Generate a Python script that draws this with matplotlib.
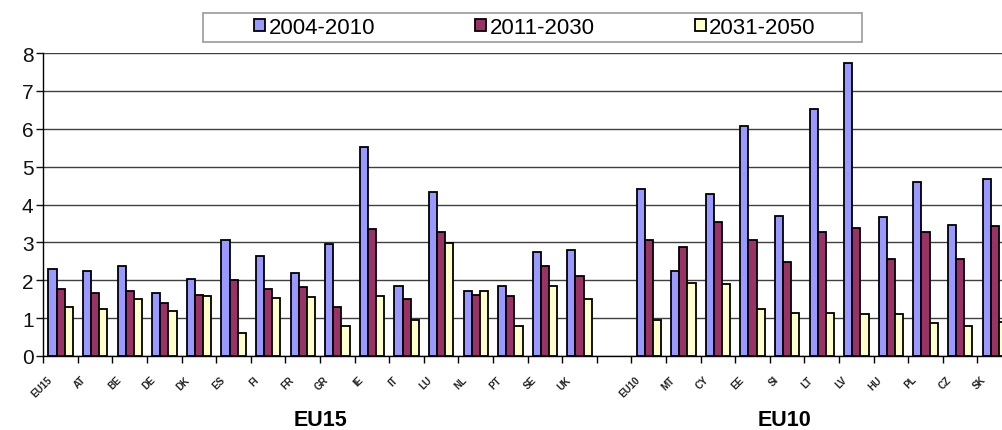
import numpy as np
import matplotlib
matplotlib.use("Agg")
import matplotlib.pyplot as plt
import matplotlib.transforms as mtrans
from matplotlib.patches import Rectangle

plt.rcParams['font.family'] = ['Liberation Sans', 'DejaVu Sans']

# categories (an empty slot separates the two groups)
countries = ["EU15", "AT", "BE", "DE", "DK", "ES", "FI", "FR", "GR", "IE", "IT", "LU", "NL", "PT", "SE", "UK",
             "",
             "EU10", "MT", "CY", "EE", "SI", "LT", "LV", "HU", "PL", "CZ", "SK"]
periods = ["2004-2010", "2011-2030", "2031-2050"]

p2004_2010 = [2.29, 2.25, 2.38, 1.66, 2.04, 3.06, 2.65, 2.19, 2.96, 5.52, 1.86, 4.33, 1.72, 1.85, 2.75, 2.81,
              np.nan,
              4.42, 2.25, 4.29, 6.07, 3.70, 6.51, 7.74, 3.67, 4.60, 3.46, 4.67]
p2011_2030 = [1.76, 1.67, 1.72, 1.39, 1.60, 2.01, 1.76, 1.82, 1.30, 3.34, 1.51, 3.27, 1.60, 1.58, 2.38, 2.10,
              np.nan,
              3.06, 2.87, 3.53, 3.06, 2.47, 3.28, 3.38, 2.57, 3.28, 2.57, 3.43]
p2031_2050 = [1.30, 1.23, 1.51, 1.20, 1.58, 0.61, 1.52, 1.57, 0.80, 1.58, 0.96, 2.98, 1.72, 0.80, 1.85, 1.51,
              np.nan,
              0.95, 1.94, 1.90, 1.23, 1.14, 1.14, 1.11, 1.11, 0.86, 0.80, 0.90]

colors = ["#9999FF", "#993366", "#FFFFCC"]

W, H = 1002, 431
fig = plt.figure(figsize=(W / 100, H / 100), dpi=100)
ax = fig.add_axes([43.3 / W, (H - 357) / H, (W - 43.3) / W, (357 - 54) / H])

x = np.arange(len(countries)) + 0.5
bw = 0.235
for i, (vals, c, lab) in enumerate(zip([p2004_2010, p2011_2030, p2031_2050], colors, periods)):
    ax.bar(x + (i - 1) * bw, vals, width=bw, color=c, edgecolor="black", linewidth=1.3,
           label=lab, zorder=3)

ax.set_ylim(0, 8)
ax.set_xlim(0, 27.71)
ax.set_yticks(range(0, 9))
ax.yaxis.grid(True, color="#404040", linewidth=1.0, zorder=0)
ax.tick_params(axis="y", labelsize=15, length=5, width=1, pad=2, colors="#111111")

ax.set_xticks(x)
ax.set_xticklabels(countries, rotation=45, ha="right", rotation_mode="anchor",
                   fontsize=7, fontweight="bold", color="#222222")
ax.tick_params(axis="x", which="major", length=0, pad=13)
ax.set_xticks(np.arange(0, 28), minor=True)
ax.tick_params(axis="x", which="minor", length=5, width=1, direction="out")
shift = mtrans.ScaledTranslation(-14 / 100, 0, fig.dpi_scale_trans)
for lbl in ax.get_xticklabels():
    lbl.set_transform(lbl.get_transform() + shift)

for s in ["top", "right"]:
    ax.spines[s].set_visible(False)
for s in ["left", "bottom"]:
    ax.spines[s].set_color("black")
    ax.spines[s].set_linewidth(1.0)

# group labels
tr = ax.get_xaxis_transform()
ax.text(8.0, -0.211, "EU15", transform=tr, ha="center", va="center", fontsize=15.5, fontweight="bold")
ax.text(21.43, -0.211, "EU10", transform=tr, ha="center", va="center", fontsize=15.5, fontweight="bold")

# legend with its own frame
fig.patches.append(Rectangle((203 / W, (H - 43) / H), 659 / W, 29 / H, transform=fig.transFigure,
                             facecolor="white", edgecolor="#999999", linewidth=1.2, zorder=1))
leg = fig.legend(loc="center", bbox_to_anchor=(535 / W, (H - 28.5) / H), ncol=3, frameon=False,
                 fontsize=16, handlelength=0.5, handleheight=0.5, handletextpad=0.15,
                 columnspacing=4.5, borderpad=0, borderaxespad=0)

fig.savefig("out.png", dpi=100)
